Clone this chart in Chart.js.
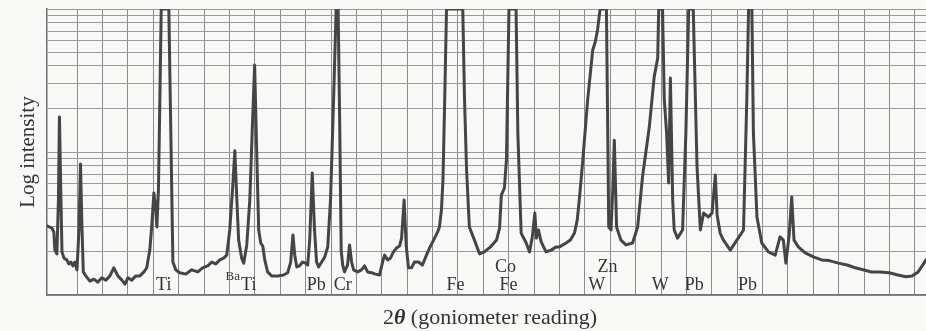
<!DOCTYPE html>
<html>
<head>
<meta charset="utf-8">
<title>X-ray fluorescence trace</title>
<script src="https://cdn.jsdelivr.net/npm/chart.js@4/dist/chart.umd.min.js"></script>
<style>
  html, body { margin: 0; padding: 0; background: #f8f8f6; }
  #wrap { position: relative; width: 926px; height: 331px; }
</style>
</head>
<body>
<div id="wrap"><canvas id="grafik"></canvas></div>
<script>
// goniometer reading, in chart-paper divisions (0 = first vertical rule)
const twoTheta = [
  -1.19, -1.00, -0.92, -0.88, -0.80, -0.74, -0.70, -0.64, -0.60, -0.52,
  -0.41, -0.33, -0.25, -0.17, -0.09, -0.01, 0.07, 0.13, 0.18, 0.24,
  0.34, 0.50, 0.66, 0.81, 0.97, 1.13, 1.29, 1.44, 1.60, 1.76,
  1.88, 2.00, 2.15, 2.31, 2.47, 2.63, 2.74, 2.86, 2.94, 3.02,
  3.08, 3.14, 3.20, 3.25, 3.31, 3.61, 3.77, 3.88, 4.04, 4.28,
  4.51, 4.75, 4.94, 5.14, 5.30, 5.46, 5.62, 5.77, 5.89, 6.01,
  6.13, 6.21, 6.29, 6.36, 6.48, 6.56, 6.68, 6.80, 6.91, 6.99,
  7.07, 7.15, 7.23, 7.31, 7.39, 7.50, 7.66, 7.90, 8.13, 8.29,
  8.41, 8.50, 8.57, 8.65, 8.76, 8.88, 9.00, 9.08, 9.16, 9.26,
  9.35, 9.43, 9.51, 9.63, 9.75, 9.87, 9.98, 10.10, 10.20, 10.28,
  10.34, 10.40, 10.46, 10.53, 10.65, 10.73, 10.81, 10.89, 11.05, 11.20,
  11.32, 11.44, 11.60, 11.75, 11.91, 12.03, 12.11, 12.23, 12.34, 12.46,
  12.58, 12.70, 12.78, 12.88, 12.96, 13.05, 13.17, 13.29, 13.45, 13.60,
  13.76, 13.88, 14.04, 14.20, 14.27, 14.35, 14.41, 14.47, 14.55, 15.19,
  15.26, 15.34, 15.45, 15.65, 15.85, 16.04, 16.28, 16.52, 16.64, 16.71,
  16.83, 16.91, 16.95, 17.01, 17.29, 17.36, 17.49, 17.69, 17.82, 17.93,
  18.03, 18.09, 18.17, 18.28, 18.47, 18.67, 18.87, 19.00, 19.26, 19.43,
  19.59, 19.70, 19.78, 19.91, 20.11, 20.31, 20.41, 20.50, 20.60, 20.85,
  20.91, 20.94, 21.03, 21.10, 21.16, 21.25, 21.42, 21.62, 21.88, 22.08,
  22.27, 22.54, 22.73, 22.87, 22.91, 23.06, 23.13, 23.22, 23.30, 23.37,
  23.46, 23.52, 23.65, 23.85, 23.98, 24.09, 24.27, 24.42, 24.55, 24.68,
  24.87, 25.01, 25.14, 25.21, 25.33, 25.46, 25.73, 25.99, 26.25, 26.38,
  26.45, 26.58, 26.64, 26.78, 26.97, 27.23, 27.50, 27.69, 27.82, 27.92,
  28.05, 28.15, 28.24, 28.41, 28.68, 29.03, 29.33, 29.62, 29.99, 30.33,
  30.65, 30.96, 31.30, 31.63, 31.99, 32.33, 32.65, 32.89, 33.13, 33.29,
  33.44
];

// pen reading (recorder saturates at 100)
const intensity = [
  3.04, 2.94, 2.76, 2.06, 1.94, 4.62, 17.6, 4.62, 2.00, 1.81,
  1.76, 1.65, 1.70, 1.60, 1.70, 1.50, 2.85, 8.24, 3.35, 1.45,
  1.36, 1.25, 1.29, 1.23, 1.32, 1.27, 1.36, 1.55, 1.36, 1.27,
  1.19, 1.32, 1.27, 1.36, 1.36, 1.45, 1.55, 2.06, 3.09, 5.17,
  4.26, 2.99, 5.42, 19.7, 100, 100, 1.70, 1.50, 1.43, 1.40,
  1.50, 1.45, 1.55, 1.60, 1.70, 1.65, 1.76, 1.81, 1.90, 2.85,
  5.88, 10.2, 4.62, 2.42, 1.81, 1.67, 2.24, 4.62, 16.7, 40.6,
  10.3, 2.85, 2.31, 2.20, 1.76, 1.45, 1.36, 1.36, 1.38, 1.43,
  1.70, 2.63, 1.90, 1.57, 1.60, 1.70, 1.67, 1.62, 2.42, 7.13,
  2.85, 1.70, 1.57, 1.70, 1.84, 2.17, 4.62, 23.1, 98.4, 100,
  16.7, 2.06, 1.62, 1.45, 1.62, 2.24, 1.70, 1.50, 1.45, 1.50,
  1.60, 1.45, 1.43, 1.40, 1.38, 1.70, 1.90, 1.76, 1.81, 2.00,
  2.13, 2.20, 2.50, 4.62, 2.24, 1.55, 1.55, 1.70, 1.70, 1.62,
  1.90, 2.13, 2.42, 2.76, 2.99, 3.93, 6.37, 19.7, 100, 100,
  23.1, 7.48, 2.99, 2.42, 1.94, 2.00, 2.17, 2.42, 2.94, 5.00,
  5.60, 8.79, 23.1, 100, 100, 13.6, 2.71, 2.31, 2.00, 2.55,
  3.74, 2.50, 2.85, 2.35, 2.00, 2.06, 2.17, 2.17, 2.31, 2.42,
  2.71, 3.35, 4.62, 8.38, 23.1, 51.7, 58.8, 71.3, 100, 100,
  10.3, 2.99, 2.85, 5.42, 12.1, 2.99, 2.42, 2.24, 2.31, 2.99,
  6.68, 15.0, 33.4, 45.4, 100, 100, 23.1, 13.6, 6.07, 32.9,
  4.62, 2.85, 2.50, 2.85, 13.6, 100, 100, 7.85, 2.85, 3.74,
  3.51, 3.74, 6.90, 3.63, 2.71, 2.42, 2.06, 2.42, 2.85, 23.1,
  100, 100, 13.6, 3.51, 2.31, 2.00, 1.90, 2.55, 2.42, 1.67,
  2.63, 4.84, 2.42, 2.17, 1.97, 1.84, 1.76, 1.74, 1.67, 1.62,
  1.55, 1.50, 1.45, 1.45, 1.43, 1.38, 1.34, 1.36, 1.45, 1.60,
  1.76
];

// chart paper rulings
const paperColumns = [0, 1, 2, 3, 4, 5, 6, 7, 8, 9, 10, 11, 12, 13, 14, 15, 16,
  17, 18, 19, 20, 21, 22, 23, 24, 25, 26, 27, 28, 29, 30, 31, 32, 33];
const paperRows = [1, 2, 3, 4, 5, 6, 7, 8, 9, 10, 20, 30, 40, 50, 60, 70, 80, 90, 100];

// element lines written under the trace
const lineNames = ["Ti", "Ti", "Pb", "Cr", "Fe", "Fe", "W", "W", "Pb", "Pb"];
const linePos = [3.41, 6.76, 9.42, 10.46, 14.90, 16.99, 20.47, 22.97, 24.31, 26.41];
const upperNames = ["Co", "Zn"];
const upperPos = [16.87, 20.89];
const smallNames = ["Ba"];
const smallPos = [6.13];

const serif = '"Liberation Serif", "DejaVu Serif", serif';
const inkColor = "#333333";

const paperText = {
  id: "paperText",
  afterDatasetsDraw(chart) {
    const ctx = chart.ctx;
    const xs = chart.scales.x;
    const area = chart.chartArea;
    ctx.save();
    ctx.fillStyle = inkColor;
    ctx.textAlign = "center";
    ctx.textBaseline = "alphabetic";

    ctx.font = "18px " + serif;
    lineNames.forEach((n, i) => ctx.fillText(n, xs.getPixelForValue(linePos[i]), area.bottom - 5));
    upperNames.forEach((n, i) => ctx.fillText(n, xs.getPixelForValue(upperPos[i]), area.bottom - 23));
    ctx.font = "13px " + serif;
    smallNames.forEach((n, i) => ctx.fillText(n, xs.getPixelForValue(smallPos[i]), area.bottom - 15));

    // y title
    ctx.font = "21px " + serif;
    ctx.save();
    ctx.translate(34, (area.top + area.bottom) / 2);
    ctx.rotate(-Math.PI / 2);
    ctx.fillText("Log intensity", 0, 0);
    ctx.restore();

    // x title: 2θ (goniometer reading)
    const a = "2";
    const b = "\u03B8";
    const c = " (goniometer reading)";
    ctx.textAlign = "left";
    ctx.font = "22px " + serif;
    const wa = ctx.measureText(a).width;
    const wc = ctx.measureText(c).width;
    ctx.font = "italic bold 22px " + serif;
    const wb = ctx.measureText(b).width;
    let x = 490 - (wa + wb + wc) / 2;
    const y = 324;
    ctx.font = "22px " + serif;
    ctx.fillText(a, x, y);
    x += wa;
    ctx.font = "italic bold 22px " + serif;
    ctx.fillText(b, x, y);
    x += wb;
    ctx.font = "22px " + serif;
    ctx.fillText(c, x, y);
    ctx.restore();
  }
};

const ctx = document.getElementById("grafik").getContext("2d");
new Chart(ctx, {
  type: "line",
  data: {
    datasets: [{
      data: twoTheta.map((t, i) => ({ x: t, y: intensity[i] })),
      borderColor: "#454545",
      borderWidth: 3,
      borderJoinStyle: "round",
      borderCapStyle: "round",
      pointRadius: 0,
      tension: 0,
      fill: false
    }]
  },
  options: {
    responsive: true,
    maintainAspectRatio: false,
    animation: false,
    events: [],
    layout: { padding: { left: 47, top: 9, right: 0, bottom: 36 } },
    plugins: { legend: { display: false }, tooltip: { enabled: false } },
    scales: {
      x: {
        type: "linear",
        min: -1.19,
        max: 33.44,
        afterBuildTicks: (s) => { s.ticks = paperColumns.map(v => ({ value: v })); },
        ticks: { display: false },
        grid: { color: "#8c8c8c", lineWidth: 1, drawTicks: false },
        border: { display: true, color: "#6e6e6e", width: 1.5 }
      },
      y: {
        type: "logarithmic",
        min: 1,
        max: 100,
        afterBuildTicks: (s) => { s.ticks = paperRows.map(v => ({ value: v })); },
        ticks: { display: false },
        grid: { color: "#9a9a9a", lineWidth: 1, drawTicks: false },
        border: { display: true, color: "#6e6e6e", width: 1.5 }
      }
    }
  },
  plugins: [paperText]
});
</script>
</body>
</html>
